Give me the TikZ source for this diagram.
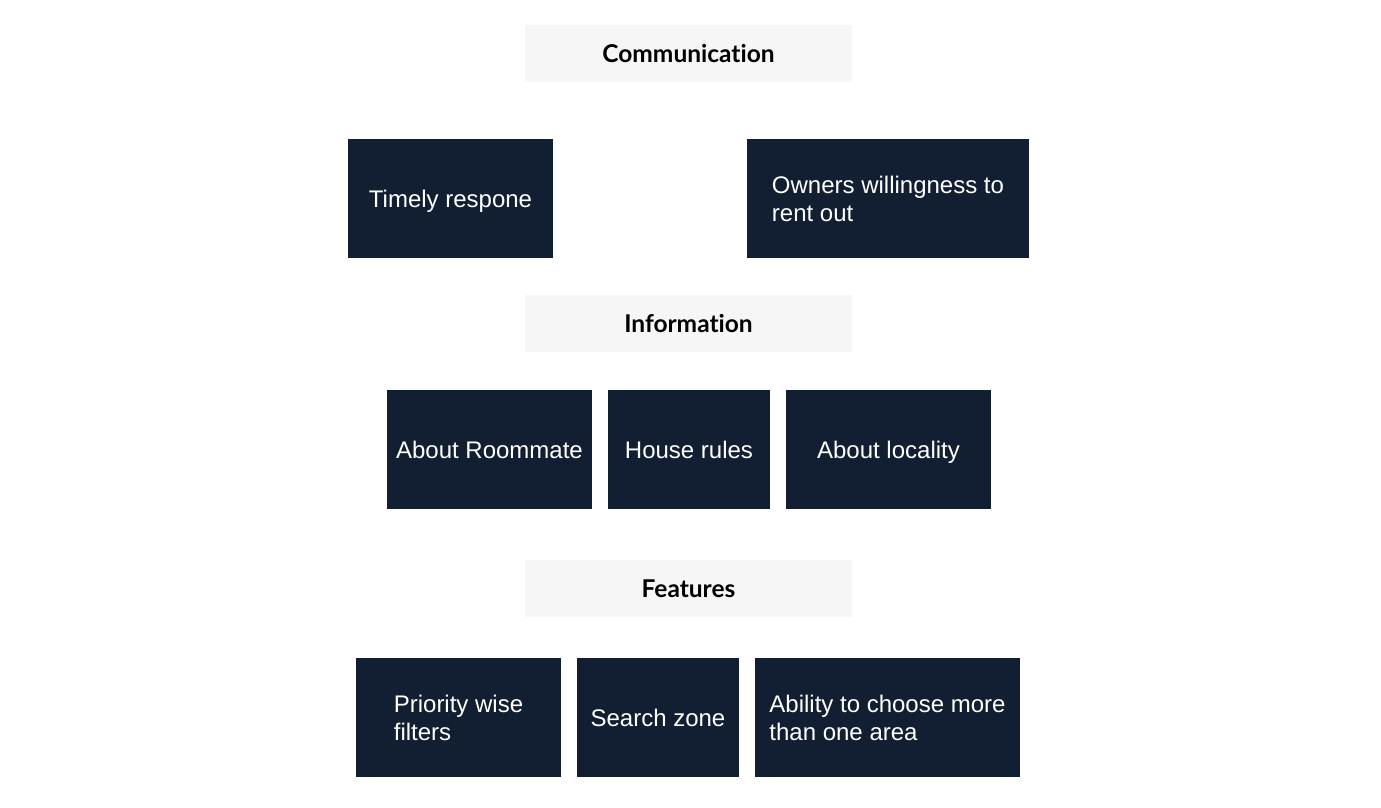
\documentclass[tikz,border=0pt]{standalone}
\usepackage{fontspec}
\setmainfont{Liberation Sans}
\newfontfamily\headfont[Ligatures={NoCommon}]{Lato}
\usetikzlibrary{positioning}
\usepackage{xcolor}
\definecolor{rmnavy}{HTML}{121F33}
\definecolor{rmgray}{HTML}{F6F6F6}

\begin{document}
\begin{tikzpicture}[
    x=1pt, y=-1pt,
    header/.style={
        rectangle,
        fill=rmgray,
        minimum width=327pt,
        minimum height=57pt,
        inner sep=0pt,
        text height=17.5pt,
        text depth=0pt,
        font=\headfont\bfseries\fontsize{24.5}{28}\selectfont
    },
    item/.style={
        rectangle,
        fill=rmnavy,
        text=white,
        minimum height=119pt,
        inner sep=0pt,
        align=left,
        font=\fontsize{24}{28}\selectfont
    },
    oneline/.style={
        item,
        text height=17.2pt,
        text depth=0pt
    }
]
\useasboundingbox (0,0) rectangle (1381,808);

% Communication
\node[header] (comm) at (688.5,53.5) {Communication};
\node[oneline, minimum width=205pt] (c1) at (450.5,198.5) {Timely respone};
\node[item, minimum width=282pt] (c2) at (888,198.5) {Owners willingness to\\rent out};

% Information
\node[header] (info) at (688.5,323.5) {Information};
\node[oneline, minimum width=205pt] (i1) at (489.5,449.5) {About Roommate};
\node[oneline, minimum width=162pt] (i2) at (689,449.5) {House rules};
\node[oneline, minimum width=205pt] (i3) at (888.5,449.5) {About locality};

% Features
\node[header] (feat) at (688.5,588.5) {Features};
\node[item, minimum width=205pt] (f1) at (458.5,717.5) {Priority wise\\filters};
\node[oneline, minimum width=162pt] (f2) at (658,717.5) {Search zone};
\node[item, minimum width=265pt] (f3) at (887.5,717.5) {Ability to choose more\\than one area};

\end{tikzpicture}
\end{document}
